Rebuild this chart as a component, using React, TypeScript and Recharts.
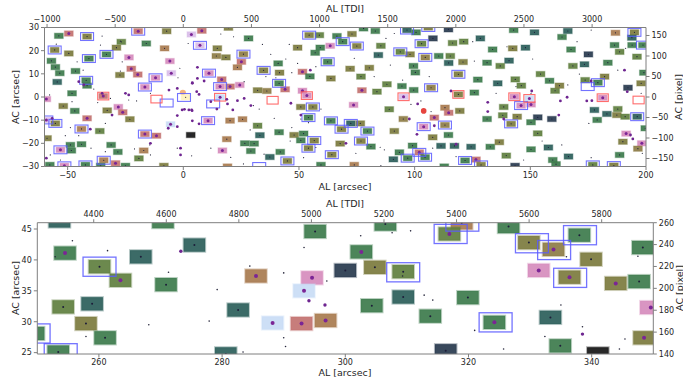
import React from 'react'
import { ScatterChart, Scatter, XAxis, YAxis, ReferenceArea } from 'recharts'

// plate scales for the secondary (TDI / pixel) axes
const ARCSEC_PER_TDI = 0.0589
const ARCSEC_PER_PIXEL = 0.177

type Source = [number, number, string]
type Pos = [number, number]

// ---- full field ----
const topAlTicks = [-50, 0, 50, 100, 150, 200]
const topTdiTicks = [-1000, -500, 0, 500, 1000, 1500, 2000, 2500, 3000]
const topAcTicks = [-30, -20, -10, 0, 10, 20, 30]
const topPixTicks = [-150, -100, -50, 0, 50, 100, 150]

// [AL arcsec, AC arcsec, kind]; a trailing * marks a bright (purple) centre
const topSources: Source[] = [
  [-53.8, 26.4, 'G'], [-49.5, 27.4, 'R*'], [-41.6, 26.1, 'Y'], [-19.5, 28.4, 'R*'], [-7.2, 28.4, 'Y'], [3.5, 27.0, 'L'],
  [-26.8, 23.8, 'O'], [-16.0, 23.1, 'G'], [-55.6, 20.3, 'Y'], [-49.5, 18.8, 'Y'], [-40.8, 16.6, 'G'], [-33.2, 18.4, 'G'],
  [-28.9, 21.3, 'Y'], [-23.5, 17.1, 'P'], [-8.1, 21.0, 'B'], [-5.8, 15.5, 'P'], [-57.0, 15.6, 'G'], [-55.3, 12.9, 'G'],
  [-53.4, 10.3, 'G'], [-46.6, 11.2, 'G'], [-54.5, 6.5, 'T'], [-42.0, 7.2, 'G'], [-41.6, 4.9, 'G'], [-22.5, 12.2, 'R'],
  [-27.4, 9.5, 'Y'], [-19.7, 9.7, 'R'], [-12.0, 8.3, 'P'], [-5.2, 10.3, 'L'], [-16.6, 4.3, 'P'], [-48.1, 1.6, 'G'],
  [-34.6, 0.4, 'R'], [-59.2, -0.9, 'P'], [1.0, -0.1, 'W'], [-51.9, -3.9, 'Y'], [-46.9, -6.0, 'G'], [-32.9, -5.8, 'Y'],
  [-28.1, -4.3, 'P'], [-26.2, -6.6, 'R'], [-41.6, -9.2, 'R'], [-23.1, -9.6, 'Y'], [-59.2, -9.9, 'L'], [-55.3, -11.4, 'Y'],
  [-44.0, -13.8, 'B'], [-36.1, -14.7, 'O'], [-5.5, -11.8, 'U'], [-16.6, -16.0, 'R'], [-11.6, -16.7, 'R'], [3.2, -16.4, 'K'],
  [-58.9, -17.8, 'Y'], [-48.8, -20.7, 'G'], [-44.0, -20.4, 'G'], [-31.2, -20.7, 'G'], [-53.1, -22.8, 'P'], [-48.4, -23.1, 'G'],
  [-28.3, -23.7, 'G'], [-17.1, -23.1, 'B'], [-19.2, -26.5, 'O'], [-34.4, -27.3, 'B'], [-57.7, -29.3, 'G'], [-51.4, -29.7, 'P'],
  [-42.3, -29.3, 'G'], [-35.7, -29.7, 'G'], [-29.3, -28.6, 'R'], [-25.0, -29.7, 'G'], [-8.4, -29.7, 'Y'],
  [8.0, 28.6, 'R'], [19.5, 29.9, 'Y'], [7.2, 22.3, 'L'], [28.2, 25.3, 'G'], [14.7, 21.0, 'Y'], [14.3, 17.7, 'N'],
  [18.4, 17.1, 'Y'], [26.0, 18.5, 'N'], [25.1, 15.2, 'R'], [23.4, 12.8, 'B'], [34.7, 11.5, 'Y'], [41.0, 14.5, 'G'],
  [41.6, 10.5, 'Y'], [51.5, 10.9, 'R*'], [54.7, 8.9, 'G'], [54.4, 26.7, 'Y'], [58.8, 26.7, 'O'], [66.4, 26.3, 'G'],
  [68.9, 23.9, 'G'], [63.5, 22.1, 'P'], [59.2, 21.3, 'G'], [57.0, 19.1, 'G'], [49.4, 21.3, 'Y'], [62.4, 15.2, 'G'],
  [63.8, 8.0, 'Y'], [11.1, 10.3, 'P'], [16.6, 7.6, 'R'], [15.9, 4.5, 'P'], [20.2, 4.5, 'R'], [24.4, 5.2, 'P'],
  [32.1, 2.9, 'Y'], [36.1, 2.6, 'N'], [41.4, 5.9, 'G'], [44.0, 3.3, 'R'], [51.5, 2.7, 'P'], [53.4, 0.6, 'P'],
  [15.9, -0.1, 'U'], [50.8, -4.3, 'Y'], [56.0, -4.3, 'Y'], [54.1, -8.9, 'G'], [63.8, -10.3, 'G'], [68.4, -13.9, 'Y'],
  [10.7, -10.2, 'P'], [20.2, -10.2, 'B'], [25.6, -9.6, 'B'], [32.1, -12.4, 'O'], [41.4, -15.2, 'G'], [33.1, -16.5, 'T'],
  [18.8, -18.2, 'B'], [47.9, -16.4, 'Y'], [52.0, -15.8, 'G'], [56.6, -18.8, 'Y'], [50.8, -18.7, 'G'], [26.6, -20.0, 'G'],
  [30.6, -20.1, 'G'], [54.1, -22.1, 'Y'], [67.8, -20.1, 'Y'], [16.9, -23.1, 'P'], [29.2, -23.3, 'G'], [37.4, -25.9, 'T'],
  [41.9, -23.7, 'G'], [45.0, -27.6, 'Y'], [64.2, -24.9, 'Y'], [19.1, -30.0, 'B'], [59.5, -29.3, 'G'],
  [77.9, 29.6, 'G'], [72.9, 27.2, 'Y'], [83.0, 28.5, 'G'], [96.7, 28.9, 'T'], [100.6, 27.9, 'G'], [105.9, 30.0, 'Y'],
  [107.9, 25.3, 'S'], [114.6, 29.2, 'S'], [128.4, 25.3, 'T'], [75.0, 22.0, 'Y'], [85.4, 22.1, 'O'], [103.0, 23.0, 'O'],
  [116.4, 23.3, 'O'], [121.2, 23.9, 'O'], [93.8, 19.5, 'O'], [98.0, 18.4, 'Y'], [84.3, 18.1, 'T'], [104.6, 17.1, 'N'],
  [110.4, 17.7, 'G'], [115.4, 17.7, 'O'], [114.7, 14.7, 'T'], [120.9, 15.1, 'Y'], [131.3, 14.8, 'G'], [72.1, 12.2, 'Y'],
  [80.4, 12.6, 'Y'], [99.5, 13.4, 'G'], [100.3, 10.6, 'G'], [76.8, 8.8, 'O'], [88.0, 5.5, 'O'], [94.5, 4.7, 'G'],
  [99.6, 3.0, 'G'], [107.1, 4.0, 'N'], [118.9, 9.8, 'Y'], [127.3, 7.5, 'G'], [77.2, 2.9, 'R*'], [83.7, 2.3, 'O'],
  [118.9, 1.1, 'Y'], [125.8, 1.9, 'G'], [95.2, 0.1, 'L'], [73.6, -3.4, 'P'], [89.0, -5.3, 'O'], [113.1, -4.6, 'B'],
  [114.7, -6.8, 'R'], [119.5, -6.0, 'Y'], [108.5, -8.9, 'R'], [95.1, -9.5, 'N'], [72.4, -11.4, 'T'], [76.5, -11.4, 'Y'],
  [79.6, -14.7, 'G'], [91.2, -14.7, 'Y'], [103.9, -12.8, 'P'], [113.1, -12.1, 'N'], [114.6, -16.4, 'G'], [107.8, -17.4, 'Y'],
  [131.3, -9.5, 'G'], [76.8, -19.0, 'Y'], [81.1, -21.4, 'G'], [99.1, -21.0, 'G'], [111.4, -21.1, 'T'], [117.2, -21.1, 'T'],
  [124.4, -21.5, 'T'], [132.7, -21.5, 'G'], [93.4, -23.9, 'G'], [102.0, -23.9, 'R'], [97.0, -26.4, 'G'], [104.5, -26.0, 'G'],
  [90.8, -26.9, 'T'], [121.8, -27.4, 'G'], [126.5, -27.0, 'R'], [128.7, -29.3, 'Y'], [73.9, -29.3, 'B'], [112.8, -30.0, 'G'],
  [142.8, 28.9, 'G'], [151.8, 27.9, 'T'], [163.7, 25.9, 'G'], [166.2, 28.5, 'T'], [186.8, 27.7, 'B'], [195.0, 27.9, 'Y'],
  [193.9, 25.6, 'T'], [194.0, 22.4, 'G'], [198.7, 22.4, 'G'], [186.4, 22.4, 'G'], [188.6, 19.5, 'O'], [196.1, 17.4, 'O'],
  [133.7, 20.5, 'G'], [142.4, 21.0, 'Y'], [147.9, 21.3, 'T'], [167.6, 20.5, 'G'], [175.1, 18.4, 'S'], [140.8, 15.7, 'T'],
  [137.0, 13.4, 'O'], [168.4, 13.4, 'O'], [173.4, 14.1, 'T'], [183.5, 14.8, 'G'], [199.1, 10.5, 'G'], [154.4, 9.9, 'O'],
  [158.3, 7.0, 'G'], [143.5, 7.6, 'O'], [146.1, 4.9, 'O'], [160.7, 2.7, 'O'], [162.6, 4.9, 'Y'], [135.9, 5.9, 'T'],
  [173.7, 7.3, 'O'], [179.2, 6.2, 'G'], [182.1, 8.8, 'Y'], [192.2, 4.0, 'S'], [197.9, 5.9, 'Y'], [143.1, 0.1, 'P'],
  [149.6, -0.6, 'U'], [146.0, -3.7, 'P'], [150.3, -3.2, 'P'], [181.3, -0.3, 'P'], [138.5, -4.3, 'O'], [138.1, -7.9, 'O'],
  [144.3, -8.5, 'Y'], [153.2, -8.8, 'S'], [159.3, -9.5, 'S'], [177.7, -5.6, 'T'], [183.1, -7.3, 'T'], [187.8, -5.2, 'O'],
  [187.4, -7.8, 'Y'], [191.0, -8.5, 'O'], [196.2, -8.5, 'T'], [178.9, -9.9, 'G'], [141.7, -11.6, 'Y'], [150.3, -10.9, 'G'],
  [153.2, -15.7, 'O'], [199.7, -13.5, 'G'], [191.4, -15.8, 'P'], [198.2, -20.0, 'P'], [190.0, -19.3, 'Y'], [196.5, -22.3, 'N'],
  [136.6, -19.5, 'Y'], [150.3, -22.6, 'G'], [157.8, -21.8, 'T'], [139.6, -25.3, 'O'], [166.5, -25.7, 'T'], [159.7, -27.2, 'G'],
  [161.1, -29.0, 'G'], [188.6, -25.0, 'G'], [143.4, -29.7, 'S'], [177.0, -29.3, 'O'], [186.1, -29.6, 'Y'],
]

const topBlueBoxes: Pos[] = [
  [-41.6, 26.1], [-19.5, 28.4], [-55.6, 20.3], [-40.8, 16.6], [-33.2, 18.4], [-42.0, 7.2], [-12.0, 8.3], [-16.6, 4.3],
  [-7.2, -2.6], [0.3, -0.2], [-59.2, -9.9], [-55.3, -11.4], [-44.0, -13.8], [-16.6, -16.0], [-53.1, -22.8], [-34.4, -27.3],
  [-51.4, -29.7], [-42.3, -29.3], [7.2, 22.3], [26.0, 18.5], [34.7, 11.5], [54.4, 26.7], [68.9, 23.9], [62.4, 15.2],
  [11.1, 10.3], [15.9, 4.5], [41.4, 5.9], [12.9, -3.0], [56.0, -4.3], [54.1, -8.9], [63.8, -10.3], [68.4, -13.9],
  [10.7, -10.2], [56.6, -18.8], [54.1, -22.1], [45.0, -27.6], [64.2, -24.9], [32.8, -30.0], [96.7, 28.9], [105.9, 30.0],
  [75.0, 22.0], [103.0, 23.0], [93.8, 19.5], [104.6, 17.1], [118.9, 9.8], [107.1, 4.0], [72.4, -11.4], [79.6, -14.7],
  [103.9, -12.8], [113.1, -12.1], [76.8, -19.0], [102.0, -23.9], [97.0, -26.4], [104.5, -26.0], [121.8, -27.4], [128.7, -29.3],
  [195.0, 27.9], [198.7, 22.4], [174.8, 4.5], [179.2, 6.2], [146.0, -3.7], [196.2, -8.5], [141.7, -11.6], [177.0, -29.3],
  [186.1, -29.6],
]

const topRedBoxes: Pos[] = [
  [-34.6, 0.4], [-11.6, -0.9], [15.9, -0.1], [38.6, -1.4], [53.4, 0.6], [95.2, 0.1], [118.9, 1.1], [143.1, 0.1],
  [149.6, -0.6], [181.3, -0.3], [196.8, -1.3],
]

const topPurpleStars: Pos[] = [
  [-25.0, 1.6], [-23.6, 0.9], [-6.2, 3.0], [-2.6, 3.7], [3.9, 6.2], [-0.5, -5.6], [0.5, -5.3], [2.4, -5.6], [3.8, -5.9],
  [-2.6, -8.0], [-6.5, -13.5], [-2.6, -12.8], [-1.2, -22.1], [-1.2, -25.0], [-59.2, -26.4], [-14.2, -20.0], [-40.2, -13.9],
  [-56.7, -9.2], [-30.8, -7.8], [-45.2, 6.6], [-43.0, 5.2], [-35.1, 1.6], [6.1, 12.8], [6.1, 8.0], [9.0, 6.9], [3.9, 5.9],
  [5.8, 2.3], [6.8, 1.1], [18.8, -1.0], [23.4, -1.6], [26.3, -0.6], [29.2, -3.7], [21.4, -5.6], [19.1, -3.0], [3.6, -5.6],
  [3.9, -10.3], [6.8, -11.6], [54.9, 11.6], [46.5, -2.7], [50.8, -7.8], [11.9, -2.0], [14.5, -5.2], [115.7, 2.6],
  [131.6, -2.3], [108.5, -12.4], [97.7, -9.5], [101.0, -16.1], [70.3, -20.0], [131.6, -6.3], [117.9, -20.4], [101.3, -3.0],
  [163.0, -1.7], [165.9, -0.1], [174.4, -1.7], [176.6, -1.6], [191.9, 2.3], [190.7, 11.6], [193.3, -16.4], [194.3, -18.1],
  [150.6, 2.6], [162.3, -7.8], [138.5, -9.5], [176.3, 6.9],
]

const topFaintStars: Pos[] = [
  [-54.9, 22.8], [-35.1, 26.3], [-35.8, 22.4], [-27.2, 24.1], [-45.9, 15.2], [-26.4, 15.2], [-43.3, 11.6], [-27.2, 11.2],
  [-1.5, 12.4], [-2.3, 8.3], [2.1, 23.1], [-38.7, 3.4], [-31.5, -0.6], [-20.2, -1.7], [-23.6, -1.3], [-14.2, 1.6],
  [-37.0, -2.4], [-48.1, -2.0], [-57.8, 0.9], [-33.7, -11.4], [-51.0, -16.7], [-45.2, -16.7], [-39.9, -22.1], [-21.1, -22.4],
  [-14.5, -20.7], [-2.6, -22.1], [3.6, -25.4], [-14.2, -25.0], [-57.5, -25.0], [-53.1, -27.2], [-48.8, -13.2], [-33.7, -23.6],
  [16.2, 27.2], [21.7, 26.0], [34.2, 22.7], [37.8, 18.4], [45.8, 22.7], [44.3, 16.4], [46.9, 10.5], [40.0, 8.3], [49.4, 14.5],
  [57.3, 13.1], [35.7, 8.8], [26.3, 6.6], [30.3, -3.7], [32.8, -5.2], [50.8, -9.5], [54.1, -11.1], [59.5, -5.2], [57.3, -21.8],
  [46.9, -13.2], [39.3, -9.2], [28.9, -14.2], [34.9, -24.7], [26.0, -28.9], [11.9, -22.1], [20.5, -26.1], [46.2, -19.0],
  [52.0, -26.2], [91.2, 27.4], [87.6, 25.3], [125.1, 23.9], [73.9, 16.7], [82.5, 8.8], [89.5, 13.8], [94.8, 7.3], [106.3, 8.8],
  [125.8, 15.5], [102.7, -1.7], [98.4, -3.2], [107.1, -6.3], [85.1, -21.7], [86.9, -22.8], [74.6, -24.3], [85.4, -29.6],
  [107.8, -22.1], [117.9, -25.7], [139.9, 21.7], [151.0, 16.4], [170.2, 23.9], [176.3, 28.9], [191.2, 21.0], [187.8, 11.6],
  [171.2, 9.9], [166.2, 5.2], [135.2, 1.6], [143.8, 4.5], [150.3, 1.6], [197.9, 1.6], [155.1, -19.0], [163.6, -20.7],
  [147.1, -27.2], [176.3, -26.2], [198.4, -24.3], [175.3, -11.4],
]

const topBrightStars: Pos[] = [[103.9, -6.0]]
const topGlow: Pos[] = [[-0.2, 2.0]]

// ---- zoomed strip ----
const bottomAlTicks = [260, 280, 300, 320, 340]
const bottomTdiTicks = [4400, 4600, 4800, 5000, 5200, 5400, 5600, 5800]
const bottomAcTicks = [25, 30, 35, 40, 45]
const bottomPixTicks = [140, 160, 180, 200, 220, 240, 260]

const bottomSources: Source[] = [
  [253.6, 46.3, 'T'], [270.4, 46.2, 'G'], [254.5, 41.1, 'G*'], [260.1, 38.9, 'O'], [263.5, 36.7, 'O*'], [266.8, 40.5, 'T'],
  [270.9, 36.0, 'G'], [275.5, 42.4, 'T'], [254.2, 32.4, 'O'], [258.9, 32.9, 'T'], [257.9, 29.7, 'Y'], [261.0, 27.4, 'G'],
  [249.4, 28.1, 'G'], [253.4, 25.1, 'G'], [282.6, 31.9, 'T'], [285.5, 37.4, 'B*'], [288.2, 29.8, 'U'], [292.9, 29.7, 'R'],
  [296.8, 30.2, 'B*'], [294.6, 37.1, 'P'], [293.3, 35.0, 'U'], [295.1, 44.6, 'G'], [280.6, 24.8, 'T'], [300.0, 38.3, 'S'],
  [306.5, 45.8, 'G'], [318.9, 46.0, 'B'], [326.5, 45.4, 'G'], [316.9, 44.2, 'O*'], [329.8, 42.8, 'Y'], [333.8, 41.7, 'N*'],
  [338.0, 44.0, 'G'], [339.9, 40.1, 'Y'], [348.3, 42.0, 'G'], [302.6, 41.3, 'G*'], [304.8, 38.8, 'Y'], [309.4, 38.1, 'O'],
  [331.4, 38.3, 'P'], [336.4, 37.2, 'Y*'], [343.9, 36.2, 'Y*'], [347.7, 36.5, 'G'], [304.3, 32.6, 'G'], [309.4, 34.0, 'T'],
  [313.8, 30.9, 'G'], [319.9, 33.9, 'G'], [324.2, 29.9, 'G*'], [333.3, 30.7, 'T'], [334.9, 26.1, 'G'], [316.3, 25.3, 'S'],
  [341.0, 24.8, 'K'], [348.5, 27.4, 'Y*'], [349.6, 32.3, 'P'],
]

const bottomBlueBoxes: Pos[] = [
  [260.1, 38.9], [249.4, 28.1], [253.8, 24.9], [319.0, 46.2], [317.1, 44.2], [330.3, 42.7], [333.9, 41.6], [338.1, 44.0],
  [309.4, 38.0], [336.5, 37.1], [324.4, 29.9],
]

const bottomPurpleStars: Pos[] = [[273.3, 41.4], [294.1, 33.4], [296.7, 32.7], [338.5, 28.0]]

const bottomFaintStars: Pos[] = [
  [252.9, 40.5], [255.7, 43.1], [261.4, 41.5], [271.3, 38.0], [279.2, 35.2], [277.9, 30.1], [268.1, 29.5], [257.9, 27.6],
  [284.5, 39.0], [290.0, 37.9], [293.3, 42.0], [297.0, 36.6], [290.0, 27.4], [290.3, 26.0], [283.4, 25.1], [302.5, 43.9],
  [307.6, 44.4], [310.6, 44.7], [312.8, 34.3], [314.2, 33.5], [321.0, 28.6], [325.7, 25.6], [332.4, 27.6], [335.0, 32.7],
  [338.5, 29.2], [345.4, 27.2], [344.5, 25.6], [347.5, 40.6], [335.9, 40.5], [309.3, 37.4],
]

const kindColors: Record<string, string> = {
  G: '#3d7b4c', O: '#5f7f3f', Y: '#7c7b3e', N: '#8d7c45', T: '#2b5e5a', S: '#28394e',
  B: '#a87b4f', R: '#c27270', P: '#d68cbd', L: '#d9bde9', U: '#c9dcf5', K: '#161616', W: '#fff2bc',
}

const AXIS_GREY = '#7f7f7f'
const TEXT = '#262626'
const FONT = 'DejaVu Sans'

const fmt = (v: number) => String(v).replace('-', '\u2212')

interface PanelProps {
  width: number
  height: number
  alDomain: [number, number]
  acDomain: [number, number]
  alTicks: number[]
  tdiTicks: number[]
  acTicks: number[]
  pixTicks: number[]
  axes: { top: number; bottom: number; left: number; right: number }
  sources: Source[]
  blueBoxes: Pos[]
  redBoxes: Pos[]
  purpleStars: Pos[]
  faintStars: Pos[]
  brightStars: Pos[]
  glow: Pos[]
  srcSize: [number, number]
  boxSize: [number, number]
  redSize: [number, number]
  zoomed: boolean
}

function Panel(p: PanelProps) {
  const [sw, sh] = p.srcSize
  const [bw, bh] = p.boxSize
  const [rw, rh] = p.redSize
  const dotR = p.zoomed ? 1.0 : 0.6
  const purpleR = p.zoomed ? 2.0 : 1.5
  const halo = p.zoomed ? 2 : 1.2

  const sourceShape = (kind: string) => (s: any) => {
    const base = kind.replace('*', '')
    const color = kindColors[base]
    const purple = kind.endsWith('*') || 'PRLU'.includes(base)
    return (
      <g clipPath={s.clipPath}>
        <rect x={s.x} y={s.y} width={s.width} height={s.height} fill={color} fillOpacity={0.92}
          stroke={color} strokeOpacity={0.35} strokeWidth={halo} />
        <circle cx={s.x + s.width / 2} cy={s.y + s.height / 2} r={purple ? purpleR : dotR}
          fill={purple ? '#7b2595' : '#1d1d3a'} />
      </g>
    )
  }

  const boxShape = (color: string) => (s: any) => (
    <g clipPath={s.clipPath}>
      <rect x={s.x} y={s.y} width={s.width} height={s.height} fill="none" stroke={color}
        strokeOpacity={0.85} strokeWidth={p.zoomed ? 1.3 : 1.1} />
    </g>
  )

  const pts = (list: Pos[]) => list.map(([x, y]) => ({ x, y }))
  const axisCommon = {
    axisLine: { stroke: AXIS_GREY },
    tickLine: { stroke: AXIS_GREY },
    tickSize: 3.5,
    tick: { fill: TEXT, fontSize: 8, fontFamily: FONT },
    interval: 0 as const,
    allowDataOverflow: true,
  }

  // the TDI axis shares the arcsec scale; its ticks sit at the arcsec value of each TDI count
  const tdiAtArcsec = p.tdiTicks.map((t) => t * ARCSEC_PER_TDI)
  const tdiLabel = (v: number) => fmt(Math.round(v / ARCSEC_PER_TDI))

  return (
    <ScatterChart width={p.width} height={p.height} margin={{ top: 0, right: 0, bottom: 0, left: 0 }}>
      <XAxis xAxisId="al" dataKey="x" type="number" domain={p.alDomain} ticks={p.alTicks}
        height={p.axes.bottom} tickFormatter={fmt} {...axisCommon} />
      <XAxis xAxisId="tdi" dataKey="x" orientation="top" type="number" ticks={tdiAtArcsec} height={p.axes.top}
        domain={p.alDomain} tickFormatter={tdiLabel} {...axisCommon} />
      <YAxis yAxisId="ac" dataKey="y" type="number" domain={p.acDomain} ticks={p.acTicks}
        width={p.axes.left} tickFormatter={fmt} {...axisCommon} />
      <YAxis yAxisId="pix" orientation="right" type="number" ticks={p.pixTicks} width={p.axes.right}
        domain={[p.acDomain[0] / ARCSEC_PER_PIXEL, p.acDomain[1] / ARCSEC_PER_PIXEL]} tickFormatter={fmt}
        {...axisCommon} />

      {p.glow.map(([x, y], i) => (
        <ReferenceArea key={'g' + i} xAxisId="al" yAxisId="ac" x1={x - 1.3} x2={x + 1.3} y1={y - 1.1} y2={y + 1.1}
          ifOverflow="hidden" shape={(s: any) => (
            <ellipse cx={s.x + s.width / 2} cy={s.y + s.height / 2} rx={s.width / 2} ry={s.height / 2}
              fill="#f4a25c" fillOpacity={0.8} />
          )} />
      ))}

      {p.sources.map(([x, y, kind], i) => (
        <ReferenceArea key={'s' + i} xAxisId="al" yAxisId="ac" x1={x - sw / 2} x2={x + sw / 2}
          y1={y - sh / 2} y2={y + sh / 2} ifOverflow="hidden" shape={sourceShape(kind)} />
      ))}

      {p.blueBoxes.map(([x, y], i) => (
        <ReferenceArea key={'b' + i} xAxisId="al" yAxisId="ac" x1={x - bw / 2} x2={x + bw / 2}
          y1={y - bh / 2} y2={y + bh / 2} ifOverflow="hidden" shape={boxShape('#5a5aff')} />
      ))}

      {p.redBoxes.map(([x, y], i) => (
        <ReferenceArea key={'r' + i} xAxisId="al" yAxisId="ac" x1={x - rw / 2} x2={x + rw / 2}
          y1={y - rh / 2} y2={y + rh / 2} ifOverflow="hidden" shape={boxShape('#ff5252')} />
      ))}

      <Scatter xAxisId="al" yAxisId="ac" data={pts(p.faintStars)} isAnimationActive={false}
        shape={(s: any) => <circle cx={s.cx} cy={s.cy} r={p.zoomed ? 0.8 : 0.6} fill="#25253a" />} />
      <Scatter xAxisId="al" yAxisId="ac" data={pts(p.purpleStars)} isAnimationActive={false}
        shape={(s: any) => <circle cx={s.cx} cy={s.cy} r={p.zoomed ? 1.7 : 1.4} fill="#6e2590" />} />
      <Scatter xAxisId="al" yAxisId="ac" data={pts(p.brightStars)} isAnimationActive={false}
        shape={(s: any) => <circle cx={s.cx} cy={s.cy} r={2.8} fill="#e6443f" />} />
    </ScatterChart>
  )
}

function AxisTitle({ x, y, text, vertical }: { x: number; y: number; text: string; vertical?: boolean }) {
  return (
    <text x={x} y={y} textAnchor="middle" dominantBaseline="central" fontSize={9.5} fontFamily={FONT}
      fill={TEXT} transform={vertical ? `rotate(-90 ${x} ${y})` : undefined}>
      {text}
    </text>
  )
}

export default function App() {
  return (
    <div style={{ position: 'absolute', left: 0, top: 0, width: 683, height: 378, background: '#fff', overflow: 'hidden' }}>
      <div style={{ position: 'absolute', left: 0, top: 0 }}>
        <Panel width={683} height={205} alDomain={[-60, 200]} acDomain={[-30, 30]}
          alTicks={topAlTicks} tdiTicks={topTdiTicks} acTicks={topAcTicks} pixTicks={topPixTicks}
          axes={{ top: 27.5, bottom: 38.5, left: 44.5, right: 37 }}
          sources={topSources} blueBoxes={topBlueBoxes} redBoxes={topRedBoxes}
          purpleStars={topPurpleStars} faintStars={topFaintStars} brightStars={topBrightStars} glow={topGlow}
          srcSize={[3.8, 2.3]} boxSize={[5.6, 3.4]} redSize={[4.8, 3.3]} zoomed={false} />
      </div>
      <div style={{ position: 'absolute', left: 0, top: 190 }}>
        <Panel width={683} height={188} alDomain={[250, 350]}
          acDomain={[140 * ARCSEC_PER_PIXEL, 260 * ARCSEC_PER_PIXEL]}
          alTicks={bottomAlTicks} tdiTicks={bottomTdiTicks} acTicks={bottomAcTicks} pixTicks={bottomPixTicks}
          axes={{ top: 32.7, bottom: 24, left: 37.3, right: 29.7 }}
          sources={bottomSources} blueBoxes={bottomBlueBoxes} redBoxes={[]}
          purpleStars={bottomPurpleStars} faintStars={bottomFaintStars} brightStars={[]} glow={[]}
          srcSize={[3.5, 2.15]} boxSize={[5.35, 3.1]} redSize={[4.8, 3.3]} zoomed={true} />
      </div>
      <svg width={683} height={378} style={{ position: 'absolute', left: 0, top: 0, pointerEvents: 'none' }}>
        <AxisTitle x={345} y={8} text="AL [TDI]" />
        <AxisTitle x={345} y={186} text="AL [arcsec]" />
        <AxisTitle x={15} y={97} text="AC [arcsec]" vertical />
        <AxisTitle x={678} y={97} text="AC [pixel]" vertical />
        <AxisTitle x={345} y={203} text="AL [TDI]" />
        <AxisTitle x={345} y={372} text="AL [arcsec]" />
        <AxisTitle x={15} y={288} text="AC [arcsec]" vertical />
        <AxisTitle x={679} y={288} text="AC [pixel]" vertical />
      </svg>
    </div>
  )
}
